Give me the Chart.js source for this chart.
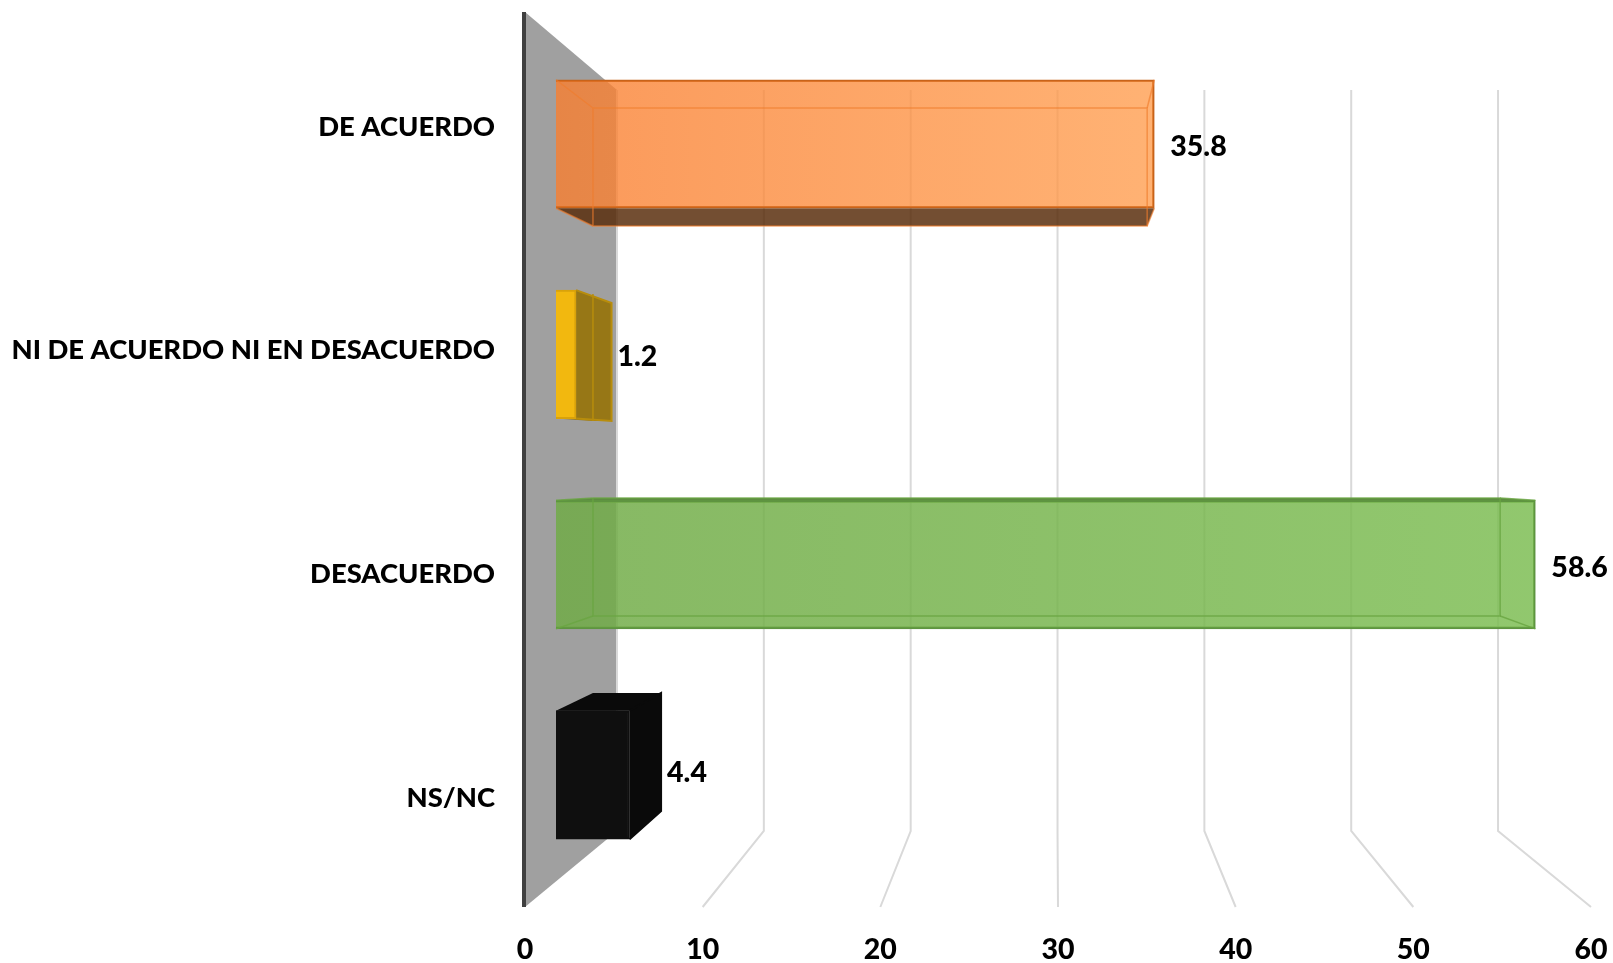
<!DOCTYPE html>
<html>
<head>
<meta charset="utf-8">
<title>Chart</title>
<script src="https://cdn.jsdelivr.net/npm/chart.js@4"></script>
<style>
	html, body { margin: 0; padding: 0; background: #fff; overflow: hidden; }
	#box { width: 1613px; height: 963px; position: relative; }
</style>
</head>
<body>
<div id="box"><canvas id="chart"></canvas></div>
<script>
const categories = ["DE ACUERDO", "NI DE ACUERDO NI EN DESACUERDO", "DESACUERDO", "NS/NC"];
const values = [35.8, 1.2, 58.6, 4.4];
const tickValues = [0, 10, 20, 30, 40, 50, 60];

const fillLeft = ["rgba(250,126,46,0.79)", "#F2B80F", "rgba(112,171,70,0.84)", "#0F0F0F"];
const fillRight = ["rgba(255,157,78,0.79)", "#F2B80F", "rgba(124,189,82,0.84)", "#0F0F0F"];
const borderColors = ["#C8631A", "#D9A20A", "#5E9440", "#0F0F0F"];
const edgeColors = ["rgba(240,125,45,0.65)", "#B88D0C", "rgba(105,165,65,0.8)", "#0A0A0A"];
const shadeColors = ["rgba(88,44,11,0.84)", "rgba(150,115,10,0.92)", "#5E8C42", "#0A0A0A"];

const labelFont = { family: "Lato", size: 27.4, weight: "900" };
const numberFont = { family: "Lato", size: 28.5, weight: "900" };
const nearHeight = 128.5;
const farHeight = 118;
const labelNudge = [1, 0, 1, -4];

// ---------------------------------------- Depth Planes ----------------------------------------

function polygon(ctx, points, fill) {
	ctx.beginPath();
	points.forEach((p, i) => (i ? ctx.lineTo(p[0], p[1]) : ctx.moveTo(p[0], p[1])));
	ctx.closePath();
	ctx.fillStyle = fill;
	ctx.fill();
}

function line(ctx, points, color, width) {
	ctx.beginPath();
	points.forEach((p, i) => (i ? ctx.lineTo(p[0], p[1]) : ctx.moveTo(p[0], p[1])));
	ctx.strokeStyle = color;
	ctx.lineWidth = width;
	ctx.stroke();
}

function boxCorners(chart, i) {
	const s = chart.scales;
	const nx0 = s.xNear.getPixelForValue(0);
	const nx1 = s.xNear.getPixelForValue(values[i]);
	const fx0 = s.xFar.getPixelForValue(0);
	const fx1 = s.xFar.getPixelForValue(values[i]);
	const ny = s.yNear.getPixelForValue(i);
	const fy = s.yFar.getPixelForValue(i);
	return {
		nx0, nx1, fx0, fx1,
		nt: ny - nearHeight / 2,
		nb: ny + nearHeight / 2,
		ft: fy - farHeight / 2,
		fb: fy + farHeight / 2,
	};
}

const plot3d = {
	id: "plot3d",
	beforeDatasetsDraw(chart) {
		const ctx = chart.ctx;
		const area = chart.chartArea;
		const s = chart.scales;
		const backTop = 90;
		const backBottom = 831;

		// left wall
		polygon(ctx, [
			[s.x.getPixelForValue(0), area.top],
			[s.xBack.getPixelForValue(0), backTop],
			[s.xBack.getPixelForValue(0), backBottom],
			[s.x.getPixelForValue(0), area.bottom],
		], "#A0A0A0");

		// gridlines: back wall then floor
		tickValues.forEach((v) => {
			const pts = [
				[s.xBack.getPixelForValue(v), backTop],
				[s.xBack.getPixelForValue(v), backBottom],
				[s.x.getPixelForValue(v), area.bottom],
			];
			line(ctx, v === 0 ? pts.slice(0, 2) : pts, "#D9D9D9", 2);
		});

		line(ctx, [
			[s.x.getPixelForValue(0) - 1, area.top],
			[s.x.getPixelForValue(0) - 1, area.bottom],
		], "#404040", 4);

		// shaded box faces
		values.forEach((v, i) => {
			const b = boxCorners(chart, i);
			if (b.fb > b.nb) {
				polygon(ctx, [[b.nx0, b.nb], [b.nx1, b.nb], [b.fx1, b.fb], [b.fx0, b.fb]], shadeColors[i]);
			}
			if (b.ft < b.nt) {
				polygon(ctx, [[b.nx0, b.nt], [b.nx1, b.nt], [b.fx1, b.ft], [b.fx0, b.ft]], shadeColors[i]);
			}
			if (b.fx1 > b.nx1) {
				polygon(ctx, [[b.nx1, b.nt], [b.fx1, b.ft], [b.fx1, b.fb], [b.nx1, b.nb]], shadeColors[i]);
			}
		});
	},
	afterDatasetsDraw(chart) {
		const ctx = chart.ctx;
		values.forEach((v, i) => {
			const b = boxCorners(chart, i);
			const edge = edgeColors[i];

			if (b.fx1 > b.nx1) {
				// short solid box: only the right face outline shows
				line(ctx, [[b.nx1, b.nt], [b.fx1, b.ft], [b.fx1, b.fb], [b.nx1, b.nb]], edge, 2);
				if (b.fx0 > b.nx1) {
					line(ctx, [[b.fx0, b.nt + 4], [b.fx0, b.fb]], edge, 1.5);
				}
			} else {
				// back edges seen through the front face
				line(ctx, [[b.fx0, b.ft], [b.fx1, b.ft], [b.fx1, b.fb], [b.fx0, b.fb], [b.fx0, b.ft]], edge, 1.5);
				line(ctx, [[b.nx0, b.nt], [b.fx0, b.ft]], edge, 1.5);
				line(ctx, [[b.nx1, b.nt], [b.fx1, b.ft]], edge, 1.5);
				line(ctx, [[b.nx0, b.nb], [b.fx0, b.fb]], edge, 1.5);
				line(ctx, [[b.nx1, b.nb], [b.fx1, b.fb]], edge, 1.5);
			}

			// value label
			ctx.font = numberFont.weight + " " + numberFont.size + "px " + numberFont.family;
			ctx.fillStyle = "#000";
			ctx.textAlign = "left";
			ctx.textBaseline = "middle";
			const lx = Math.max(b.nx1 + 16, b.fx1 + 6);
			const ly = chart.scales.yNear.getPixelForValue(i) + 2 + labelNudge[i];
			ctx.fillText(v.toFixed(1), lx, ly);
		});
	},
};

// ---------------------------------------- Bars ----------------------------------------

function barFill(context) {
	const i = context.dataIndex;
	const chart = context.chart;
	if (!chart.chartArea || i === undefined) {
		return fillLeft[0];
	}
	const xs = chart.scales.xNear;
	const g = chart.ctx.createLinearGradient(xs.getPixelForValue(0), 0, xs.getPixelForValue(values[i]), 0);
	g.addColorStop(0, fillLeft[i]);
	g.addColorStop(1, fillRight[i]);
	return g;
}

const chartEl = document.getElementById("chart");

const graph = new Chart(chartEl, {
	type: "bar",
	plugins: [plot3d],
	data: {
		labels: categories,
		datasets: [
			{
				data: values.map((v, i) => ({ x: v, y: i })),
				xAxisID: "xNear",
				yAxisID: "yNear",
				backgroundColor: barFill,
				borderColor: borderColors,
				borderWidth: 2,
				barThickness: nearHeight,
			},
		],
	},
	options: {
		indexAxis: "y",
		responsive: true,
		maintainAspectRatio: false,
		animation: false,
		layout: { padding: { top: 12, right: 22, bottom: 0, left: 0 } },
		plugins: {
			legend: { display: false },
			title: { display: false },
			tooltip: { enabled: false },
		},
		scales: {
			x: {
				type: "linear",
				position: "bottom",
				min: 0,
				max: 60,
				grid: { display: false },
				border: { display: false },
				ticks: { stepSize: 10, color: "#000", font: numberFont, padding: 18, maxRotation: 0 },
				afterFit(scale) {
					scale.height = 56;
					scale.paddingLeft = 0;
					scale.paddingRight = 0;
				},
			},
			y: {
				type: "category",
				position: "left",
				offset: true,
				grid: { display: false },
				border: { display: false },
				ticks: { color: "#000", font: labelFont, padding: 22, labelOffset: 3, autoSkip: false },
				afterFit(scale) {
					scale.width = 525;
					scale.paddingTop = 0;
					scale.paddingBottom = 0;
				},
			},
			// hidden scales: the same value axis at the back wall and at the two box planes
			xBack: { type: "linear", display: false, min: -6.265, max: 66.33 },
			xNear: { type: "linear", display: false, min: -1.855, max: 61.93 },
			xFar: { type: "linear", display: false, min: -4.39, max: 64.47 },
			yNear: { type: "linear", display: false, offset: false, reverse: true, min: -0.6277, max: 3.628 },
			yFar: { type: "linear", display: false, offset: false, reverse: true, min: -0.795, max: 3.795 },
		},
	},
});
</script>
</body>
</html>
